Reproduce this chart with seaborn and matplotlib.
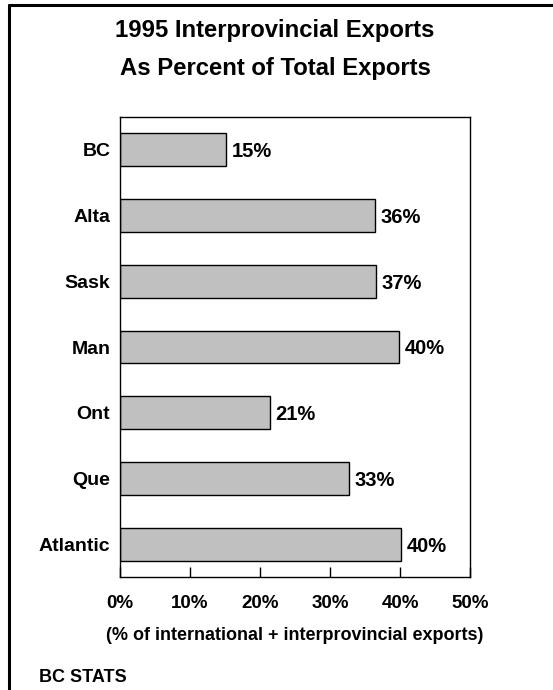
import matplotlib
matplotlib.use("Agg")
import matplotlib.pyplot as plt
import seaborn as sns
import pandas as pd
from matplotlib.lines import Line2D

regions = ["BC", "Alta", "Sask", "Man", "Ont", "Que", "Atlantic"]
values = [15.2, 36.4, 36.5, 39.9, 21.4, 32.7, 40.2]
labels = ["15%", "36%", "37%", "40%", "21%", "33%", "40%"]
xticks = [0, 10, 20, 30, 40, 50]
xticklabels = ["0%", "10%", "20%", "30%", "40%", "50%"]

sns.set_theme(style="white")
plt.rcParams['font.family'] = ['Liberation Sans', 'DejaVu Sans']
plt.rcParams['font.weight'] = 'bold'
plt.rcParams['text.color'] = 'black'
plt.rcParams['axes.labelcolor'] = 'black'
plt.rcParams['xtick.color'] = 'black'
plt.rcParams['ytick.color'] = 'black'

W, H = 553, 690
fig = plt.figure(figsize=(W/100, H/100), dpi=100)
ax = fig.add_axes([120/W, 1-577/H, 350/W, 460/H])

df = pd.DataFrame({"region": regions, "value": values})
sns.barplot(data=df, x="value", y="region", ax=ax, color="#c0c0c0",
            edgecolor="black", linewidth=1.0, width=0.5, saturation=1)

ax.set_xlim(0, 50)
ax.set_ylim(6.5, -0.5)
ax.set_xticks(xticks)
ax.set_xticklabels(xticklabels, fontsize=13.5, fontweight='bold', color='black')
ax.tick_params(axis='x', direction='in', length=7, width=1, color='black', pad=13, bottom=True)
ax.tick_params(axis='y', length=0, pad=7, labelsize=14, labelcolor='black')
for t in ax.get_yticklabels():
    t.set_fontweight('bold')
    t.set_verticalalignment('center_baseline')
ax.set_ylabel("")
ax.set_xlabel("(% of international + interprovincial exports)", fontsize=13,
              fontweight='bold', labelpad=11, color='black')
for s in ax.spines.values():
    s.set_visible(True)
    s.set_color('black')
    s.set_linewidth(1.0)

for i, (v, lab) in enumerate(zip(values, labels)):
    ax.text(v + 0.8, i, lab, va='center_baseline', ha='left', fontsize=14.5,
            fontweight='bold', color='black')

fig.text(275/W, 1-30/H, "1995 Interprovincial Exports", ha='center', va='center',
         fontsize=17.2, fontweight='bold', color='black')
fig.text(275/W, 1-68/H, "As Percent of Total Exports", ha='center', va='center',
         fontsize=17.2, fontweight='bold', color='black')
fig.text(39/W, 1-678/H, "BC STATS", ha='left', va='center', fontsize=13, fontweight='bold', color='black')

fig.add_artist(Line2D([9/W, 1.0], [1-5/H, 1-5/H], transform=fig.transFigure, color='black', lw=2.2))
fig.add_artist(Line2D([9/W, 9/W], [0, 1-5/H], transform=fig.transFigure, color='black', lw=2.2))

fig.savefig("out.png", dpi=100)
